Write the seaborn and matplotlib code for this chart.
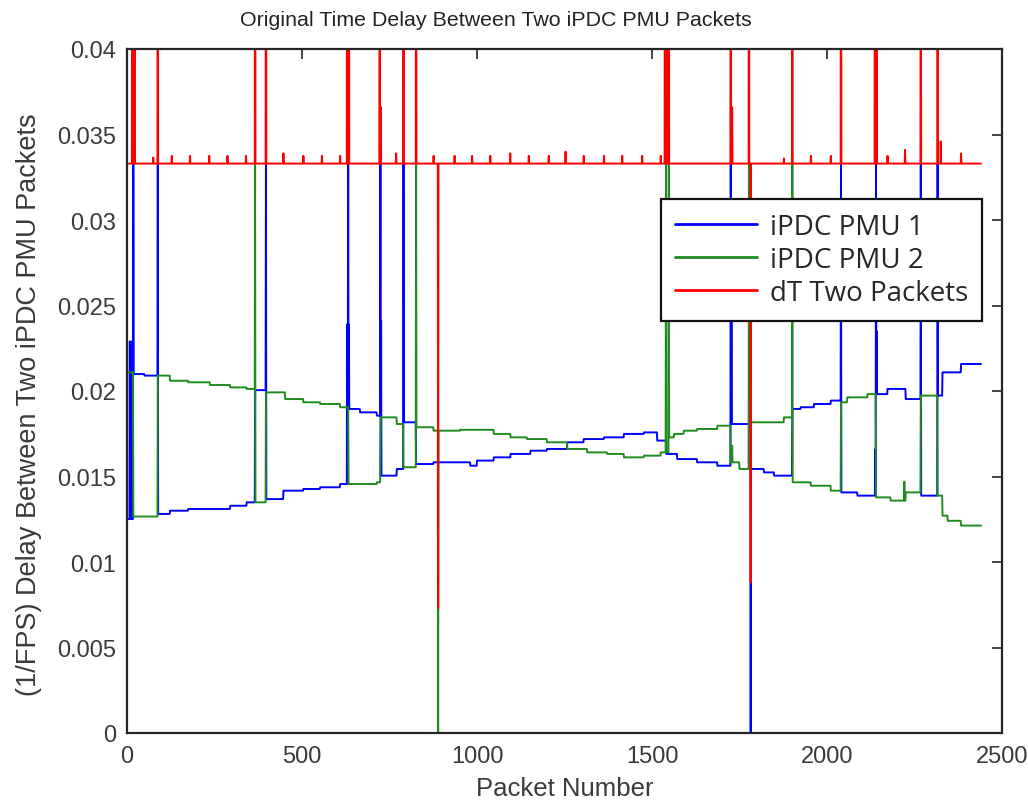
import numpy as np
import pandas as pd
import matplotlib
matplotlib.use("Agg")
import matplotlib.pyplot as plt
import seaborn as sns
from matplotlib.ticker import FixedLocator, FixedFormatter

# ---------------- data ----------------
n_packets = 2440

blue_seg_start = [1, 18, 50, 88, 123, 175, 295, 342, 366, 397,
                  447, 504, 552, 609, 633, 666, 714, 724, 771, 790,
                  826, 876, 981, 1000, 1048, 1096, 1153, 1200, 1258, 1305,
                  1363, 1420, 1477, 1515, 1541, 1572, 1629, 1687, 1725, 1782,
                  1820, 1849, 1901, 1925, 1963, 2011, 2040, 2087, 2140, 2173,
                  2225, 2268, 2316, 2330, 2383]
blue_seg_level = [0.01251, 0.02099, 0.02090, 0.01281, 0.01300, 0.01310, 0.01329, 0.01349, 0.02005, 0.01368,
                  0.01417, 0.01427, 0.01437, 0.01456, 0.01895, 0.01875, 0.01856, 0.01505, 0.01544, 0.01817,
                  0.01573, 0.01583, 0.01563, 0.01593, 0.01612, 0.01632, 0.01651, 0.01661, 0.01700, 0.01719,
                  0.01729, 0.01749, 0.01758, 0.01710, 0.01632, 0.01602, 0.01583, 0.01563, 0.01807, 0.01544,
                  0.01524, 0.01505, 0.01895, 0.01905, 0.01924, 0.01944, 0.01407, 0.01388, 0.01982, 0.02012,
                  0.01953, 0.01388, 0.01973, 0.02109, 0.02158]
blue_spike_pkt = [8, 10, 12, 18, 88, 397, 629, 631, 632, 634, 724, 726, 790,
                  1725, 1727, 1782, 2040, 2138, 2140, 2142, 2268, 2316]
blue_spike_val = [0.0229, 0.0225, 0.0229, 0.0333, 0.0333, 0.0333, 0.0239, 0.0239, 0.0333, 0.0239, 0.0333, 0.0241, 0.0333,
                  0.0333, 0.0243, 0.0, 0.0333, 0.0166, 0.0333, 0.0235, 0.0333, 0.0333]

green_seg_start = [1, 18, 88, 123, 175, 237, 295, 342, 366, 397,
                   452, 504, 552, 609, 633, 714, 724, 771, 790, 826,
                   876, 952, 1048, 1096, 1143, 1200, 1258, 1315, 1372, 1420,
                   1477, 1525, 1548, 1563, 1591, 1629, 1687, 1725, 1750, 1777,
                   1877, 1901, 1954, 2011, 2040, 2058, 2116, 2140, 2182, 2225,
                   2268, 2316, 2330, 2345, 2383]
green_seg_level = [0.02109, 0.01266, 0.02090, 0.02060, 0.02051, 0.02035, 0.02021, 0.02012, 0.01349, 0.01992,
                   0.01953, 0.01934, 0.01924, 0.01905, 0.01456, 0.01466, 0.01846, 0.01807, 0.01554, 0.01788,
                   0.01768, 0.01773, 0.01749, 0.01729, 0.01719, 0.01700, 0.01661, 0.01641, 0.01632, 0.01612,
                   0.01622, 0.01641, 0.01729, 0.01749, 0.01768, 0.01778, 0.01797, 0.01583, 0.01544, 0.01817,
                   0.01846, 0.01466, 0.01446, 0.01417, 0.01934, 0.01963, 0.01982, 0.01378, 0.01359, 0.01407,
                   0.01973, 0.01388, 0.01271, 0.01241, 0.01213]
green_spike_pkt = [366, 724, 826, 889, 1540, 1548, 1729, 1777, 1901, 2221]
green_spike_val = [0.0333, 0.0168, 0.0333, 0.0, 0.0333, 0.0333, 0.0168, 0.0333, 0.0333, 0.0147]

red_base = 0.0333
red_spike_pkt = [15, 22, 88, 366, 397, 629, 631, 632, 634, 722, 725, 790, 826, 889,
                 1537, 1539, 1540, 1542, 1548, 1725, 1729, 1777, 1782, 1901, 2040,
                 2137, 2139, 2140, 2142, 2268, 2316, 2325]
red_spike_val = [0.0667, 0.0667, 0.0667, 0.0667, 0.0667, 0.0667, 0.0667, 0.0667, 0.0667, 0.0667, 0.0366, 0.0667, 0.0667, 0.0073,
                 0.0667, 0.0667, 0.0667, 0.0667, 0.0667, 0.0667, 0.0366, 0.0667, 0.0088, 0.0667, 0.0667,
                 0.0667, 0.0667, 0.0667, 0.0667, 0.0667, 0.0667, 0.0346]
red_tick_pkt = [75, 128, 180, 235, 287, 340, 447, 504, 557, 609, 769, 876, 936, 986, 1038, 1095,
                1148, 1205, 1253, 1305, 1363, 1415, 1472, 1525, 1877, 1954, 2011, 2173, 2223, 2383]
red_tick_val = [0.03365, 0.03375, 0.03375, 0.03375, 0.03375, 0.03375, 0.0339, 0.03375, 0.03375, 0.03375,
                0.0339, 0.03375, 0.03375, 0.03375, 0.03375, 0.0339, 0.03375, 0.03375, 0.0340, 0.03375,
                0.03375, 0.03375, 0.03375, 0.03375, 0.0336, 0.03375, 0.03375, 0.03375, 0.0341, 0.0339]

series_names = ["iPDC PMU 1", "iPDC PMU 2", "dT Two Packets"]
series_colors = ["#0000ff", "#1f8c1f", "#ff0000"]

x_ticks = [0, 500, 1000, 1500, 2000, 2500]
x_tick_labels = ["0", "500", "1000", "1500", "2000", "2500"]
y_ticks = [0, 0.005, 0.01, 0.015, 0.02, 0.025, 0.03, 0.035, 0.04]
y_tick_labels = ["0", "0.005", "0.01", "0.015", "0.02", "0.025", "0.03", "0.035", "0.04"]

# ---------------- build series (step levels + single-sample spikes) ----------------
packets = np.arange(1, n_packets + 1)


def expand(starts, levels, spk_pkt, spk_val):
    bounds = list(starts) + [n_packets + 1]
    lengths = np.diff(bounds)
    y = np.repeat(np.asarray(levels, float), lengths)
    for p, v in zip(spk_pkt, spk_val):
        y[p - 1] = v
    return y


blue = expand(blue_seg_start, blue_seg_level, blue_spike_pkt, blue_spike_val)
green = expand(green_seg_start, green_seg_level, green_spike_pkt, green_spike_val)
red = expand([1], [red_base], red_tick_pkt + red_spike_pkt, red_tick_val + red_spike_val)

df = pd.concat([
    pd.DataFrame({"packet": packets, "delay": blue, "series": series_names[0]}),
    pd.DataFrame({"packet": packets, "delay": green, "series": series_names[1]}),
    pd.DataFrame({"packet": packets, "delay": red, "series": series_names[2]}),
], ignore_index=True)

# ---------------- plot ----------------
sns.set_style("white")
plt.rcParams["font.family"] = ["Liberation Sans", "DejaVu Sans"]

fig = plt.figure(figsize=(10.28, 8.03), dpi=100)
ax = fig.add_axes([127 / 1028, 69 / 803, 875 / 1028, 684 / 803])

sns.lineplot(data=df, x="packet", y="delay", hue="series", hue_order=series_names,
             palette=dict(zip(series_names, series_colors)), estimator=None, sort=False,
             linewidth=1.4, ax=ax)

ax.set_xlim(0, 2500)
ax.set_ylim(0, 0.04)
ax.xaxis.set_major_locator(FixedLocator(x_ticks))
ax.xaxis.set_major_formatter(FixedFormatter(x_tick_labels))
ax.yaxis.set_major_locator(FixedLocator(y_ticks))
ax.yaxis.set_major_formatter(FixedFormatter(y_tick_labels))

ax.tick_params(direction="in", length=7, width=1.2, top=True, right=True, color="#262626")
ax.tick_params(axis="y", pad=8, labelsize=17, labelcolor="#3a3a3a")
ax.tick_params(axis="x", pad=9, labelsize=17, labelcolor="#3a3a3a")
for sp in ax.spines.values():
    sp.set_visible(True)
    sp.set_linewidth(1.6)
    sp.set_color("#262626")

ax.set_xlabel("Packet Number", fontsize=18.5, color="#3a3a3a", labelpad=6)
ax.set_ylabel("(1/FPS) Delay Between Two iPDC PMU Packets", fontsize=19.5, color="#3a3a3a")
ax.yaxis.set_label_coords(-0.097, 0.481)
ax.set_title("Original Time Delay Between Two iPDC PMU Packets", fontsize=15.4,
             color="#222222", pad=17, x=0.421)

leg = ax.legend(loc="upper right", bbox_to_anchor=(0.977, 0.7807), frameon=True,
                fancybox=False, framealpha=1, edgecolor="#111111",
                prop={"family": ["Open Sans", "DejaVu Sans"], "size": 20},
                handlelength=2.95, handletextpad=0.45, borderpad=0.5, labelspacing=0.18,
                borderaxespad=0)
leg.get_frame().set_linewidth(1.6)
for line in leg.get_lines():
    line.set_linewidth(2)

fig.savefig("out.png", dpi=100)
